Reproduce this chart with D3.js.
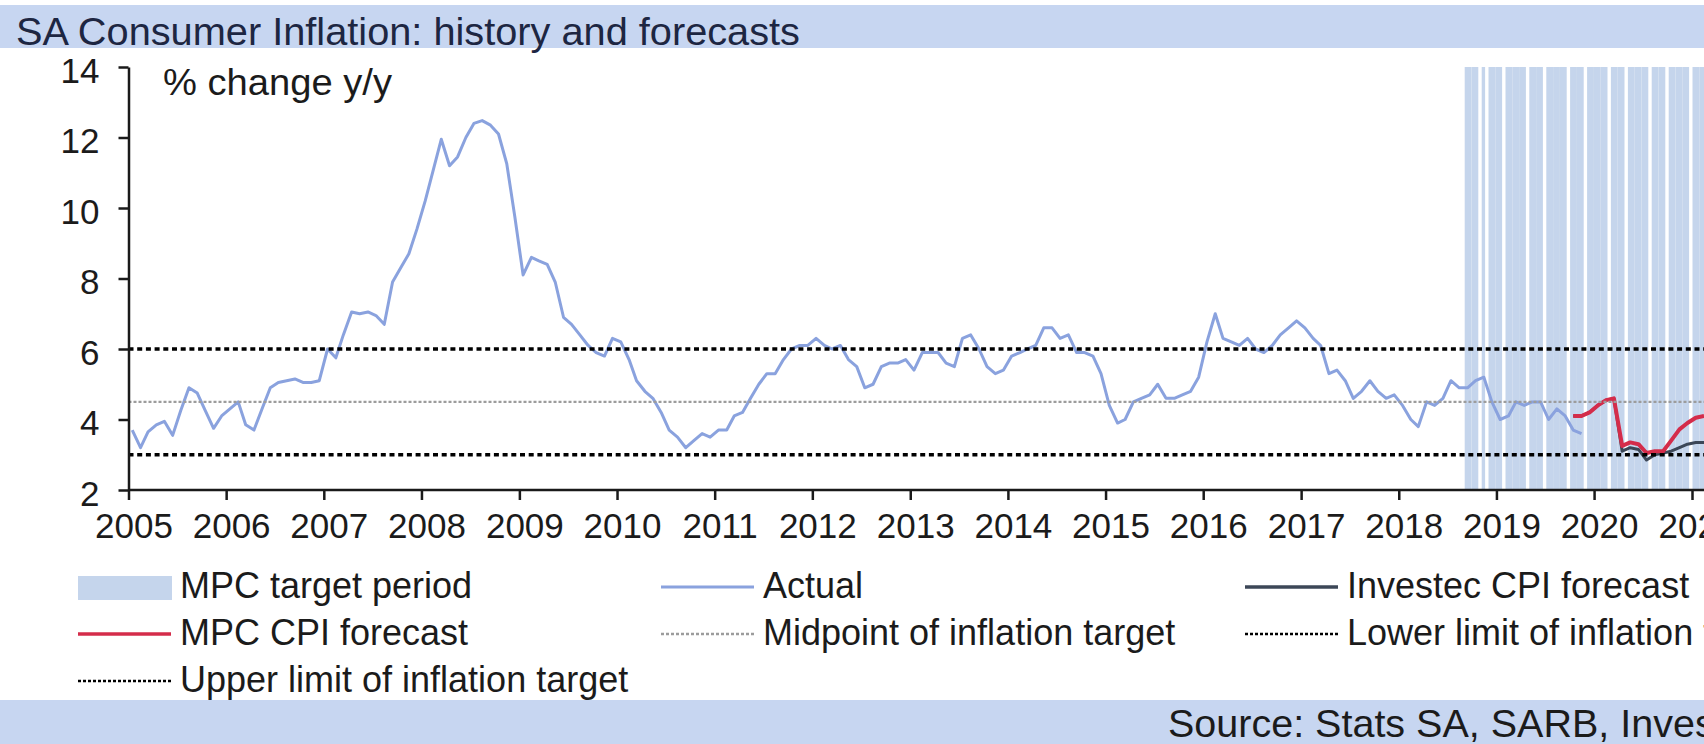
<!DOCTYPE html>
<html lang="en">
<head>
<meta charset="UTF-8">
<title>SA Consumer Inflation: history and forecasts</title>
<script src="https://cdn.jsdelivr.net/npm/d3@7"></script>
<style>
  html, body { margin: 0; padding: 0; background: #fff; }
  svg { display: block; font-family: "Liberation Sans", Arial, Helvetica, sans-serif; }
  .band { fill: #c7d6f1; }
  .title { fill: #1d2642; font-size: 38px; }
  .unit { fill: #1b1b1b; font-size: 37px; }
  .axis path, .axis line { stroke: #1a1a1a; stroke-width: 2.5px; }
  .axis text { fill: #1b1b1b; font-size: 35px; }
  .legend text { fill: #1b1b1b; font-size: 36px; }
  .source { fill: #1b1b1b; font-size: 39.5px; }
</style>
</head>
<body>
<svg id="chart" width="1704" height="744"></svg>
<script>
// monthly y/y CPI, first value is Jan 2005
const actualStart = "2005-01";
const actual = [
  3.7, 3.2, 3.65, 3.85, 3.95, 3.55, 4.25, 4.9, 4.75, 4.25, 3.75, 4.1,      // 2005
  4.3, 4.5, 3.85, 3.7, 4.3, 4.9, 5.05, 5.1, 5.15, 5.05, 5.05, 5.1,          // 2006
  6.0, 5.75, 6.4, 7.05, 7.0, 7.05, 6.95, 6.7, 7.9, 8.3, 8.7, 9.4,           // 2007
  10.2, 11.1, 11.95, 11.2, 11.45, 12.0, 12.4, 12.48, 12.35, 12.1, 11.25, 9.75, // 2008
  8.1, 8.6, 8.5, 8.4, 7.9, 6.9, 6.7, 6.4, 6.1, 5.9, 5.8, 6.3,               // 2009
  6.2, 5.7, 5.1, 4.8, 4.6, 4.2, 3.7, 3.5, 3.2, 3.4, 3.6, 3.5,               // 2010
  3.7, 3.7, 4.1, 4.2, 4.6, 5.0, 5.3, 5.3, 5.7, 6.0, 6.1, 6.1,               // 2011
  6.3, 6.1, 6.0, 6.1, 5.7, 5.5, 4.9, 5.0, 5.5, 5.6, 5.6, 5.7,               // 2012
  5.4, 5.9, 5.9, 5.9, 5.6, 5.5, 6.3, 6.4, 6.0, 5.5, 5.3, 5.4,               // 2013
  5.8, 5.9, 6.0, 6.1, 6.6, 6.6, 6.3, 6.4, 5.9, 5.9, 5.8, 5.3,               // 2014
  4.4, 3.9, 4.0, 4.5, 4.6, 4.7, 5.0, 4.6, 4.6, 4.7, 4.8, 5.2,               // 2015
  6.2, 7.0, 6.3, 6.2, 6.1, 6.3, 6.0, 5.9, 6.1, 6.4, 6.6, 6.8,               // 2016
  6.6, 6.3, 6.1, 5.3, 5.4, 5.1, 4.6, 4.8, 5.1, 4.8, 4.6, 4.7,               // 2017
  4.4, 4.0, 3.8, 4.5, 4.4, 4.6, 5.1, 4.9, 4.9, 5.1, 5.2, 4.5,               // 2018
  4.0, 4.1, 4.5, 4.4, 4.5, 4.5, 4.0, 4.3, 4.1, 3.7, 3.6                     // 2019
];

// forecasts, first value is Oct 2019
const forecastStart = "2019-10";
const investecForecast = [4.1, 4.1, 4.2, 4.4, 4.55, 4.6, 3.1, 3.2, 3.15, 2.85, 3.0, 3.05, 3.1, 3.2, 3.3, 3.35, 3.35];
const mpcForecast      = [4.1, 4.1, 4.2, 4.4, 4.55, 4.6, 3.25, 3.35, 3.3, 3.05, 3.1, 3.1, 3.4, 3.72, 3.9, 4.05, 4.1];

// shaded columns for the MPC target period
const mpcTargetMonths = [
  "2018-09", "2018-10", "2018-11", "2018-12",
  "2019-01", "2019-02", "2019-03", "2019-04", "2019-05", "2019-06",
  "2019-07", "2019-08", "2019-09", "2019-10", "2019-11", "2019-12",
  "2020-01", "2020-02", "2020-03", "2020-04", "2020-05", "2020-06",
  "2020-07", "2020-08", "2020-09", "2020-10", "2020-11", "2020-12",
  "2021-01", "2021-02"
];
const mpcTargetTop = 14;

const targetLower = 3;
const targetMidpoint = 4.5;
const targetUpper = 6;

const yTicks = [2, 4, 6, 8, 10, 12, 14];
const yearTicks = [2005, 2006, 2007, 2008, 2009, 2010, 2011, 2012, 2013, 2014, 2015, 2016, 2017, 2018, 2019, 2020, 2021];

const W = 1704, H = 744;
const parseMonth = d3.timeParse("%Y-%m");
const midMonth = d => d3.timeDay.offset(d, 14);

const monthly = (start, values) => values.map((v, i) => ({
  date: midMonth(d3.timeMonth.offset(parseMonth(start), i)),
  value: v
}));

const actualData = monthly(actualStart, actual);
const investecData = monthly(forecastStart, investecForecast);
const mpcData = monthly(forecastStart, mpcForecast);

const x = d3.scaleTime()
  .domain([new Date(2005, 0, 1), new Date(2021, 0, 1)])
  .range([128.5, 1692]);
const y = d3.scaleLinear().domain([2, 14]).range([490, 67]);
const x0 = x.range()[0];

const svg = d3.select("#chart");

// title and source bands
svg.append("rect").attr("class", "band").attr("x", 0).attr("y", 5).attr("width", W).attr("height", 43);
svg.append("text").attr("class", "title")
  .attr("x", 16).attr("y", 45)
  .attr("textLength", 784).attr("lengthAdjust", "spacingAndGlyphs")
  .text("SA Consumer Inflation: history and forecasts");

svg.append("rect").attr("class", "band").attr("x", 0).attr("y", 700).attr("width", W).attr("height", 44);
svg.append("text").attr("class", "source")
  .attr("x", 1168).attr("y", 737)
  .text("Source: Stats SA, SARB, Investec");

// target period columns; the published chart was blown up about 3.4x,
// so column edges land on a coarse grid and only some gaps show
const grid = 3.4;
const snap = v => x0 + Math.round((v - x0) / grid) * grid;
svg.append("g")
  .selectAll("rect")
  .data(mpcTargetMonths.map(parseMonth))
  .join("rect")
  .attr("x", d => snap(x(d)))
  .attr("width", d => snap(x(d3.timeMonth.offset(d, 1)) - 1.45) - snap(x(d)))
  .attr("y", y(mpcTargetTop))
  .attr("height", y(2) - y(mpcTargetTop))
  .attr("fill", "#c5d5ec");

const line = d3.line().x(d => x(d.date)).y(d => y(d.value));

svg.append("path").datum(actualData)
  .attr("d", line).attr("fill", "none")
  .attr("stroke", "#8aa2de").attr("stroke-width", 3).attr("stroke-linejoin", "round");

svg.append("path").datum(investecData)
  .attr("d", line).attr("fill", "none")
  .attr("stroke", "#3c4757").attr("stroke-width", 3).attr("stroke-linejoin", "round");

svg.append("path").datum(mpcData)
  .attr("d", line).attr("fill", "none")
  .attr("stroke", "#d42c4a").attr("stroke-width", 4).attr("stroke-linejoin", "round");

// inflation target band lines
const refLines = [
  { value: targetMidpoint, stroke: "#9c9c9c", width: 2.2, dash: "3,2" },
  { value: targetLower, stroke: "#000", width: 3.5, dash: "5,3.7" },
  { value: targetUpper, stroke: "#000", width: 3.5, dash: "5,3.7" }
];
svg.append("g")
  .selectAll("line")
  .data(refLines)
  .join("line")
  .attr("x1", x0).attr("x2", W)
  .attr("y1", d => y(d.value)).attr("y2", d => y(d.value))
  .attr("stroke", d => d.stroke)
  .attr("stroke-width", d => d.width)
  .attr("stroke-dasharray", d => d.dash);

// axes
const yAxis = svg.append("g").attr("class", "axis")
  .attr("transform", `translate(${x0},0)`)
  .call(d3.axisLeft(y).tickValues(yTicks).tickSize(10).tickSizeOuter(0).tickPadding(19));
yAxis.selectAll("text").attr("y", 4);

const xAxis = svg.append("g").attr("class", "axis")
  .attr("transform", `translate(0,${y(2)})`)
  .call(d3.axisBottom(x)
    .tickValues(yearTicks.map(yr => new Date(yr, 0, 1)))
    .tickFormat(d3.timeFormat("%Y"))
    .tickSize(10).tickSizeOuter(0));
xAxis.select(".domain").remove();
xAxis.append("line").attr("x1", x0).attr("x2", W).attr("y1", 0).attr("y2", 0);
xAxis.selectAll("text").attr("y", 48).attr("dy", null).attr("dx", 5);

[yAxis, xAxis].forEach(g => g.attr("font-size", null).attr("font-family", null));

svg.append("text").attr("class", "unit")
  .attr("x", 163).attr("y", 95)
  .attr("textLength", 229).attr("lengthAdjust", "spacingAndGlyphs")
  .text("% change y/y");

// legend
const legendCols = [78, 661, 1245];
const legendRows = [598, 645, 692];
const legendItems = [
  { label: "MPC target period", kind: "rect", fill: "#c5d5ec" },
  { label: "Actual", kind: "line", stroke: "#8aa2de", width: 3 },
  { label: "Investec CPI forecast", kind: "line", stroke: "#3c4757", width: 3.5 },
  { label: "MPC CPI forecast", kind: "line", stroke: "#d42c4a", width: 3.5 },
  { label: "Midpoint of inflation target", kind: "line", stroke: "#9c9c9c", width: 2.5, dash: "3,2" },
  { label: "Lower limit of inflation target", kind: "line", stroke: "#000", width: 2.5, dash: "3,2" },
  { label: "Upper limit of inflation target", kind: "line", stroke: "#000", width: 2.5, dash: "3,2" }
];

const legend = svg.append("g").attr("class", "legend");
legendItems.forEach((item, i) => {
  const lx = legendCols[i % 3];
  const ly = legendRows[Math.floor(i / 3)];
  const g = legend.append("g").attr("transform", `translate(${lx},${ly})`);
  if (item.kind === "rect") {
    g.append("rect").attr("x", 0).attr("y", -22).attr("width", 94).attr("height", 24).attr("fill", item.fill);
  } else {
    g.append("line").attr("x1", 0).attr("x2", 93).attr("y1", -11).attr("y2", -11)
      .attr("stroke", item.stroke).attr("stroke-width", item.width)
      .attr("stroke-dasharray", item.dash || null);
  }
  g.append("text").attr("x", 102).attr("y", 0).text(item.label);
});
</script>
</body>
</html>
